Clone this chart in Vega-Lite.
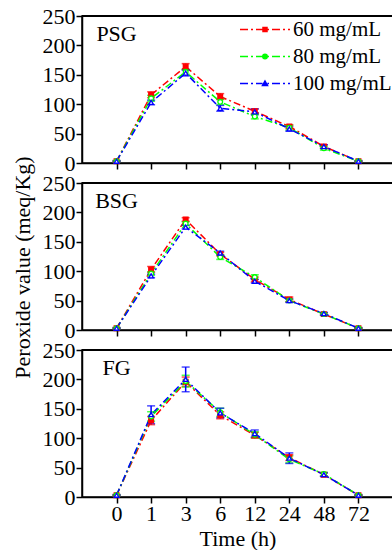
{
  "$schema": "https://vega.github.io/schema/vega-lite/v6.json",
  "background": "white",
  "padding": {"left": 10, "top": 4, "right": 0, "bottom": 0},
  "bounds": "flush",
  "spacing": 20,
  "datasets": {
    "pv": [
      {"panel":"PSG","conc":"60 mg/mL","time":"0","value":3,"err":1},
      {"panel":"PSG","conc":"60 mg/mL","time":"1","value":116,"err":5},
      {"panel":"PSG","conc":"60 mg/mL","time":"3","value":164,"err":5},
      {"panel":"PSG","conc":"60 mg/mL","time":"6","value":113,"err":5},
      {"panel":"PSG","conc":"60 mg/mL","time":"12","value":88,"err":4},
      {"panel":"PSG","conc":"60 mg/mL","time":"24","value":62,"err":3},
      {"panel":"PSG","conc":"60 mg/mL","time":"48","value":28,"err":3},
      {"panel":"PSG","conc":"60 mg/mL","time":"72","value":3,"err":1},
      {"panel":"PSG","conc":"80 mg/mL","time":"0","value":3,"err":1},
      {"panel":"PSG","conc":"80 mg/mL","time":"1","value":110,"err":5},
      {"panel":"PSG","conc":"80 mg/mL","time":"3","value":155,"err":4},
      {"panel":"PSG","conc":"80 mg/mL","time":"6","value":104,"err":5},
      {"panel":"PSG","conc":"80 mg/mL","time":"12","value":79,"err":4},
      {"panel":"PSG","conc":"80 mg/mL","time":"24","value":60,"err":4},
      {"panel":"PSG","conc":"80 mg/mL","time":"48","value":25,"err":3},
      {"panel":"PSG","conc":"80 mg/mL","time":"72","value":3,"err":1},
      {"panel":"PSG","conc":"100 mg/mL","time":"0","value":3,"err":1},
      {"panel":"PSG","conc":"100 mg/mL","time":"1","value":103,"err":4},
      {"panel":"PSG","conc":"100 mg/mL","time":"3","value":153,"err":5},
      {"panel":"PSG","conc":"100 mg/mL","time":"6","value":93,"err":5},
      {"panel":"PSG","conc":"100 mg/mL","time":"12","value":87,"err":5},
      {"panel":"PSG","conc":"100 mg/mL","time":"24","value":58,"err":4},
      {"panel":"PSG","conc":"100 mg/mL","time":"48","value":28,"err":3},
      {"panel":"PSG","conc":"100 mg/mL","time":"72","value":3,"err":1},
      {"panel":"BSG","conc":"60 mg/mL","time":"0","value":3,"err":1},
      {"panel":"BSG","conc":"60 mg/mL","time":"1","value":103,"err":5},
      {"panel":"BSG","conc":"60 mg/mL","time":"3","value":188,"err":3},
      {"panel":"BSG","conc":"60 mg/mL","time":"6","value":129,"err":3},
      {"panel":"BSG","conc":"60 mg/mL","time":"12","value":86,"err":4},
      {"panel":"BSG","conc":"60 mg/mL","time":"24","value":52,"err":4},
      {"panel":"BSG","conc":"60 mg/mL","time":"48","value":27,"err":2},
      {"panel":"BSG","conc":"60 mg/mL","time":"72","value":3,"err":1},
      {"panel":"BSG","conc":"80 mg/mL","time":"0","value":3,"err":1},
      {"panel":"BSG","conc":"80 mg/mL","time":"1","value":96,"err":3},
      {"panel":"BSG","conc":"80 mg/mL","time":"3","value":181,"err":3},
      {"panel":"BSG","conc":"80 mg/mL","time":"6","value":124,"err":4},
      {"panel":"BSG","conc":"80 mg/mL","time":"12","value":90,"err":4},
      {"panel":"BSG","conc":"80 mg/mL","time":"24","value":50,"err":2},
      {"panel":"BSG","conc":"80 mg/mL","time":"48","value":27,"err":2},
      {"panel":"BSG","conc":"80 mg/mL","time":"72","value":3,"err":1},
      {"panel":"BSG","conc":"100 mg/mL","time":"0","value":3,"err":1},
      {"panel":"BSG","conc":"100 mg/mL","time":"1","value":92,"err":3},
      {"panel":"BSG","conc":"100 mg/mL","time":"3","value":175,"err":3},
      {"panel":"BSG","conc":"100 mg/mL","time":"6","value":131,"err":3},
      {"panel":"BSG","conc":"100 mg/mL","time":"12","value":83,"err":3},
      {"panel":"BSG","conc":"100 mg/mL","time":"24","value":50,"err":3},
      {"panel":"BSG","conc":"100 mg/mL","time":"48","value":28,"err":2},
      {"panel":"BSG","conc":"100 mg/mL","time":"72","value":3,"err":1},
      {"panel":"FG","conc":"60 mg/mL","time":"0","value":3,"err":1},
      {"panel":"FG","conc":"60 mg/mL","time":"1","value":130,"err":7},
      {"panel":"FG","conc":"60 mg/mL","time":"3","value":196,"err":8},
      {"panel":"FG","conc":"60 mg/mL","time":"6","value":139,"err":6},
      {"panel":"FG","conc":"60 mg/mL","time":"12","value":105,"err":5},
      {"panel":"FG","conc":"60 mg/mL","time":"24","value":67,"err":5},
      {"panel":"FG","conc":"60 mg/mL","time":"48","value":38,"err":3},
      {"panel":"FG","conc":"60 mg/mL","time":"72","value":3,"err":1},
      {"panel":"FG","conc":"80 mg/mL","time":"0","value":3,"err":1},
      {"panel":"FG","conc":"80 mg/mL","time":"1","value":137,"err":8},
      {"panel":"FG","conc":"80 mg/mL","time":"3","value":197,"err":10},
      {"panel":"FG","conc":"80 mg/mL","time":"6","value":144,"err":7},
      {"panel":"FG","conc":"80 mg/mL","time":"12","value":106,"err":5},
      {"panel":"FG","conc":"80 mg/mL","time":"24","value":64,"err":6},
      {"panel":"FG","conc":"80 mg/mL","time":"48","value":39,"err":3},
      {"panel":"FG","conc":"80 mg/mL","time":"72","value":3,"err":1},
      {"panel":"FG","conc":"100 mg/mL","time":"0","value":3,"err":1},
      {"panel":"FG","conc":"100 mg/mL","time":"1","value":140,"err":15},
      {"panel":"FG","conc":"100 mg/mL","time":"3","value":200,"err":21},
      {"panel":"FG","conc":"100 mg/mL","time":"6","value":143,"err":8},
      {"panel":"FG","conc":"100 mg/mL","time":"12","value":108,"err":6},
      {"panel":"FG","conc":"100 mg/mL","time":"24","value":66,"err":9},
      {"panel":"FG","conc":"100 mg/mL","time":"48","value":38,"err":3},
      {"panel":"FG","conc":"100 mg/mL","time":"72","value":3,"err":1}
    ]
  },
  "config": {
    "font": "Liberation Serif",
    "view": {"stroke": "black", "strokeWidth": 1.5},
    "axis": {
      "labelFont": "Liberation Serif", "labelFontSize": 22, "labelColor": "black",
      "titleFont": "Liberation Serif", "titleFontSize": 22, "titleFontWeight": "normal", "titleColor": "black",
      "domainColor": "black", "domainWidth": 1.5, "tickColor": "black", "tickWidth": 1.5, "tickSize": 6,
      "grid": false
    }
  },
  "resolve": {"legend": {"color": "independent"}},
  "vconcat": [
    {
      "width": 311, "height": 147,
      "data": {"name": "pv"},
      "transform": [{"filter": "datum.panel === 'PSG'"}],
      "encoding": {
        "y": {"field": "value", "type": "quantitative", "scale": {"domain": [0, 250], "nice": false}, "axis": {"values": [0,50,100,150,200,250], "title": null, "labelPadding": 1}}
      },
      "layer": [
        {"mark": {"type": "rule", "color": "black", "strokeWidth": 1.5}, "encoding": {"y": {"datum": 250}}},
        {"mark": {"type": "line", "strokeDash": [7, 3, 2, 3], "strokeWidth": 1.5},
         "encoding": {
          "x": {"field": "time", "type": "ordinal", "sort": ["0","1","3","6","12","24","48","72"], "scale": {"type": "point", "padding": 1}, "axis": {"labels": false, "title": null, "labelAngle": 0}},
          "color": {"field": "conc", "type": "nominal", "sort": ["60 mg/mL","80 mg/mL","100 mg/mL"], "scale": {"domain": ["60 mg/mL","80 mg/mL","100 mg/mL"], "range": ["#ff0000","#00ff00","#0000ff"]},
          "legend": {
            "orient": "none", "legendX": 182, "legendY": 0, "title": null, "padding": 0,
            "labelFont": "Liberation Serif", "labelFontSize": 21, "labelColor": "black", "labelOffset": 2,
            "symbolSize": 625, "symbolStrokeWidth": 1.5, "rowPadding": 3,
            "encode": {"symbols": {"update": {
              "shape": {"signal": "datum.value === '60 mg/mL' ? 'M-3,0H-2.36M-2.12,0H-1.96M-1.72,0H-1.08M-0.84,0H-0.68M-0.44,0H0.2M0.44,0H0.6M0.84,0H1M-1.16,-0.16H-0.84V0.16H-1.16Z' : datum.value === '80 mg/mL' ? 'M-3,0H-2.36M-2.12,0H-1.96M-1.72,0H-1.18M-0.82,0H-0.68M-0.44,0H0.2M0.44,0H0.6M0.84,0H1M-0.82,0A0.18,0.18,0,1,1,-1.18,0A0.18,0.18,0,1,1,-0.82,0Z' : 'M-3,0H-2.36M-2.12,0H-1.96M-1.72,0H-1.2M-0.8,0H-0.68M-0.44,0H0.2M0.44,0H0.6M0.84,0H1M-1,-0.2L-0.8,0.16L-1.2,0.16Z'"},
              "fill": {"signal": "datum.value === '60 mg/mL' ? '#ff0000' : '#ffffff'"},
              "strokeDash": {"value": []}
            }}}
          }}}},
        {"mark": {"type": "errorbar", "ticks": {"size": 8}, "thickness": 1.5},
         "encoding": {"x": {"field": "time", "type": "ordinal", "sort": ["0","1","3","6","12","24","48","72"]}, "yError": {"field": "err"}, "color": {"field": "conc", "type": "nominal"}}},
        {"mark": {"type": "point", "filled": false, "size": 22, "strokeWidth": 1.3, "opacity": 1},
         "encoding": {
           "x": {"field": "time", "type": "ordinal", "sort": ["0","1","3","6","12","24","48","72"]},
           "color": {"field": "conc", "type": "nominal"},
           "shape": {"field": "conc", "type": "nominal", "scale": {"domain": ["60 mg/mL","80 mg/mL","100 mg/mL"], "range": ["square","circle","triangle-up"]}, "legend": null},
           "fill": {"field": "conc", "type": "nominal", "scale": {"domain": ["60 mg/mL","80 mg/mL","100 mg/mL"], "range": ["#ff0000","#ffffff","#ffffff"]}, "legend": null}
         }},
        {"transform": [{"filter": "datum.conc === '60 mg/mL' && datum.time === '0'"}],
         "mark": {"type": "text", "font": "Liberation Serif", "fontSize": 22, "fill": "black", "align": "center", "baseline": "middle"},
         "encoding": {"x": {"field": "time", "type": "ordinal", "sort": ["0","1","3","6","12","24","48","72"]}, "y": {"datum": 220}, "text": {"field": "panel"}}}
      ]
    },
    {
      "width": 311, "height": 147,
      "data": {"name": "pv"},
      "transform": [{"filter": "datum.panel === 'BSG'"}],
      "encoding": {
        "y": {"field": "value", "type": "quantitative", "scale": {"domain": [0, 250], "nice": false}, "axis": {"values": [0,50,100,150,200,250], "title": "Peroxide value (meq/Kg)", "labelPadding": 1, "titlePadding": 8, "titleY": 84}}
      },
      "layer": [
        {"mark": {"type": "rule", "color": "black", "strokeWidth": 1.5}, "encoding": {"y": {"datum": 250}}},
        {"mark": {"type": "line", "strokeDash": [7, 3, 2, 3], "strokeWidth": 1.5},
         "encoding": {
          "x": {"field": "time", "type": "ordinal", "sort": ["0","1","3","6","12","24","48","72"], "scale": {"type": "point", "padding": 1}, "axis": {"labels": false, "title": null, "labelAngle": 0}},
          "color": {"field": "conc", "type": "nominal", "sort": ["60 mg/mL","80 mg/mL","100 mg/mL"], "scale": {"domain": ["60 mg/mL","80 mg/mL","100 mg/mL"], "range": ["#ff0000","#00ff00","#0000ff"]}, "legend": null}}},
        {"mark": {"type": "errorbar", "ticks": {"size": 8}, "thickness": 1.5},
         "encoding": {"x": {"field": "time", "type": "ordinal", "sort": ["0","1","3","6","12","24","48","72"]}, "yError": {"field": "err"}, "color": {"field": "conc", "type": "nominal", "legend": null}}},
        {"mark": {"type": "point", "filled": false, "size": 22, "strokeWidth": 1.3, "opacity": 1},
         "encoding": {
           "x": {"field": "time", "type": "ordinal", "sort": ["0","1","3","6","12","24","48","72"]},
           "color": {"field": "conc", "type": "nominal", "legend": null},
           "shape": {"field": "conc", "type": "nominal", "scale": {"domain": ["60 mg/mL","80 mg/mL","100 mg/mL"], "range": ["square","circle","triangle-up"]}, "legend": null},
           "fill": {"field": "conc", "type": "nominal", "scale": {"domain": ["60 mg/mL","80 mg/mL","100 mg/mL"], "range": ["#ff0000","#ffffff","#ffffff"]}, "legend": null}
         }},
        {"transform": [{"filter": "datum.conc === '60 mg/mL' && datum.time === '0'"}],
         "mark": {"type": "text", "font": "Liberation Serif", "fontSize": 22, "fill": "black", "align": "center", "baseline": "middle"},
         "encoding": {"x": {"field": "time", "type": "ordinal", "sort": ["0","1","3","6","12","24","48","72"]}, "y": {"datum": 220}, "text": {"field": "panel"}}}
      ]
    },
    {
      "width": 311, "height": 147,
      "data": {"name": "pv"},
      "transform": [{"filter": "datum.panel === 'FG'"}],
      "encoding": {
        "y": {"field": "value", "type": "quantitative", "scale": {"domain": [0, 250], "nice": false}, "axis": {"values": [0,50,100,150,200,250], "title": null, "labelPadding": 1}}
      },
      "layer": [
        {"mark": {"type": "rule", "color": "black", "strokeWidth": 1.5}, "encoding": {"y": {"datum": 250}}},
        {"mark": {"type": "line", "strokeDash": [7, 3, 2, 3], "strokeWidth": 1.5},
         "encoding": {
          "x": {"field": "time", "type": "ordinal", "sort": ["0","1","3","6","12","24","48","72"], "scale": {"type": "point", "padding": 1}, "axis": {"title": "Time (h)", "labelAngle": 0, "labelPadding": 0, "titlePadding": 4}},
          "color": {"field": "conc", "type": "nominal", "sort": ["60 mg/mL","80 mg/mL","100 mg/mL"], "scale": {"domain": ["60 mg/mL","80 mg/mL","100 mg/mL"], "range": ["#ff0000","#00ff00","#0000ff"]}, "legend": null}}},
        {"mark": {"type": "errorbar", "ticks": {"size": 8}, "thickness": 1.5},
         "encoding": {"x": {"field": "time", "type": "ordinal", "sort": ["0","1","3","6","12","24","48","72"]}, "yError": {"field": "err"}, "color": {"field": "conc", "type": "nominal", "legend": null}}},
        {"mark": {"type": "point", "filled": false, "size": 22, "strokeWidth": 1.3, "opacity": 1},
         "encoding": {
           "x": {"field": "time", "type": "ordinal", "sort": ["0","1","3","6","12","24","48","72"]},
           "color": {"field": "conc", "type": "nominal", "legend": null},
           "shape": {"field": "conc", "type": "nominal", "scale": {"domain": ["60 mg/mL","80 mg/mL","100 mg/mL"], "range": ["square","circle","triangle-up"]}, "legend": null},
           "fill": {"field": "conc", "type": "nominal", "scale": {"domain": ["60 mg/mL","80 mg/mL","100 mg/mL"], "range": ["#ff0000","#ffffff","#ffffff"]}, "legend": null}
         }},
        {"transform": [{"filter": "datum.conc === '60 mg/mL' && datum.time === '0'"}],
         "mark": {"type": "text", "font": "Liberation Serif", "fontSize": 22, "fill": "black", "align": "center", "baseline": "middle"},
         "encoding": {"x": {"field": "time", "type": "ordinal", "sort": ["0","1","3","6","12","24","48","72"]}, "y": {"datum": 220}, "text": {"field": "panel"}}}
      ]
    }
  ]
}
